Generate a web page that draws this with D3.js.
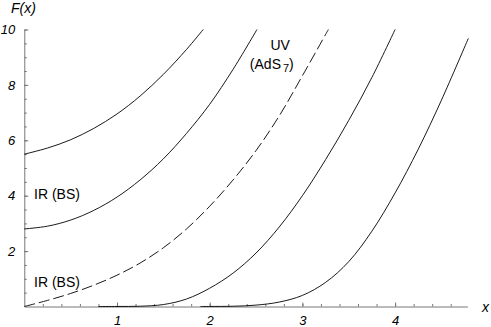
<!DOCTYPE html>
<html>
<head>
<meta charset="utf-8">
<script src="https://cdn.jsdelivr.net/npm/d3@7"></script>
<style>
  body { margin: 0; background: #fff; }
  svg { display: block; font-family: 'Liberation Sans', Arial, sans-serif; }
</style>
</head>
<body>
<div id="chart"></div>
<script>
// values, F(x) against x
const xTop = [0, 0.25, 0.5, 0.75, 1.0, 1.25, 1.5, 1.75, 1.93]
const fTop = [5.5, 5.72, 6.02, 6.43, 6.95, 7.6, 8.38, 9.28, 10]

const xSecond = [0, 0.25, 0.5, 0.75, 1.0, 1.25, 1.5, 1.75, 2.0, 2.25, 2.51]
const fSecond = [2.8, 2.9, 3.12, 3.47, 3.95, 4.57, 5.33, 6.25, 7.3, 8.55, 10]

const xUV = [0, 0.25, 0.5, 0.75, 1.0, 1.25, 1.5, 1.75, 2.0, 2.25, 2.5, 2.75, 3.0, 3.28]
const fUV = [0, 0.22, 0.47, 0.77, 1.13, 1.57, 2.12, 2.8, 3.62, 4.56, 5.63, 6.88, 8.33, 10]

const xFourth = [0.8, 1.0, 1.25, 1.5, 1.75, 2.0, 2.25, 2.5, 2.75, 3.0, 3.25, 3.5, 3.75, 4.0]
const fFourth = [0, 0.002, 0.01, 0.07, 0.27, 0.66, 1.2, 1.93, 2.87, 4.0, 5.3, 6.72, 8.27, 10]

const xFifth = [1.9, 2.0, 2.25, 2.5, 2.75, 3.0, 3.25, 3.5, 3.75, 4.0, 4.25, 4.5, 4.79]
const fFifth = [0, 0.002, 0.01, 0.05, 0.16, 0.4, 0.87, 1.62, 2.72, 4.1, 5.68, 7.45, 9.68]

const yTickLabels = [2, 4, 6, 8, 10]
const xTickLabels = [1, 2, 3, 4]

// labels placed in data coordinates
const annotations = [
  {x: 0.105, f: 3.88, text: 'IR (BS)'},
  {x: 0.105, f: 0.70, text: 'IR (BS)'},
]

const curves = [
  {xs: xTop, fs: fTop, dashed: false},
  {xs: xSecond, fs: fSecond, dashed: false},
  {xs: xUV, fs: fUV, dashed: true},
  {xs: xFourth, fs: fFourth, dashed: false},
  {xs: xFifth, fs: fFifth, dashed: false},
]

const canvasWidth = 491
const canvasHeight = 327

const xScale = d3.scaleLinear().domain([0, 4.78]).range([24.3, 467.4])
const yScale = d3.scaleLinear().domain([0, 10]).range([306.5, 29.5])

const svg = d3
  .select('#chart')
  .append('svg')
  .attr('width', canvasWidth)
  .attr('height', canvasHeight)

const axisColor = '#777'

// minor ticks first so the major ones sit on top
svg
  .append('g')
  .attr('transform', `translate(${xScale(0)}, 0)`)
  .call(
    d3.axisLeft(yScale)
      .tickValues(d3.range(0.5, 10.01, 0.5))
      .tickSize(-2.5)
      .tickFormat(''),
  )
  .call(g => g.select('.domain').remove())
  .call(g => g.selectAll('line').attr('stroke', axisColor))

svg
  .append('g')
  .attr('transform', `translate(0, ${yScale(0)})`)
  .call(
    d3.axisBottom(xScale)
      .tickValues(d3.range(0.2, 4.78, 0.2))
      .tickSize(-2.5)
      .tickFormat(''),
  )
  .call(g => g.select('.domain').remove())
  .call(g => g.selectAll('line').attr('stroke', axisColor))

const yAxis = svg
  .append('g')
  .attr('transform', `translate(${xScale(0)}, 0)`)
  .call(
    d3.axisLeft(yScale)
      .tickValues(yTickLabels)
      .tickSize(-4)
      .tickSizeOuter(0)
      .tickPadding(9)
      .tickFormat(d3.format('d')),
  )

const xAxis = svg
  .append('g')
  .attr('transform', `translate(0, ${yScale(0)})`)
  .call(
    d3.axisBottom(xScale)
      .tickValues(xTickLabels)
      .tickSize(-4)
      .tickSizeOuter(0)
      .tickPadding(9.5)
      .tickFormat(d3.format('d')),
  )

;[yAxis, xAxis].forEach(ax => {
  ax.select('.domain').attr('stroke', axisColor).attr('stroke-width', 1)
  ax.selectAll('line').attr('stroke', axisColor)
  ax.selectAll('text')
    .attr('fill', '#000')
    .style('font-size', '13px')
    .style('font-style', 'italic')
    .style('font-family', "'Liberation Sans', Arial, sans-serif")
})

const line = d3
  .line()
  .x(d => xScale(d[0]))
  .y(d => yScale(d[1]))
  .curve(d3.curveCatmullRom)

svg
  .append('g')
  .selectAll('path.curve')
  .data(curves)
  .enter()
  .append('path')
  .attr('class', 'curve')
  .attr('d', c => line(c.xs.map((x, i) => [x, c.fs[i]])))
  .attr('fill', 'none')
  .attr('stroke', '#000')
  .attr('stroke-width', 0.9)
  .attr('stroke-dasharray', c => (c.dashed ? '11,4' : null))

svg
  .selectAll('text.note')
  .data(annotations)
  .enter()
  .append('text')
  .attr('class', 'note')
  .attr('x', d => xScale(d.x))
  .attr('y', d => yScale(d.f))
  .style('font-size', '14px')
  .text(d => d.text)

// UV (AdS7) label
svg
  .append('text')
  .attr('x', xScale(2.76))
  .attr('y', yScale(9.26))
  .attr('text-anchor', 'middle')
  .style('font-size', '14px')
  .text('UV')

const ads = svg
  .append('text')
  .attr('x', xScale(2.67))
  .attr('y', yScale(8.57))
  .attr('text-anchor', 'middle')
  .style('font-size', '14px')
ads.append('tspan').text('(AdS')
ads.append('tspan').attr('dx', 2).attr('dy', 3).style('font-size', '11px').text('7')
ads.append('tspan').attr('dy', -3).text(')')

// axis titles
svg
  .append('text')
  .attr('x', 11)
  .attr('y', 13)
  .style('font-size', '14px')
  .style('font-style', 'italic')
  .text('F(x)')

svg
  .append('text')
  .attr('x', 482)
  .attr('y', 312)
  .style('font-size', '14px')
  .style('font-style', 'italic')
  .text('x')
</script>
</body>
</html>
